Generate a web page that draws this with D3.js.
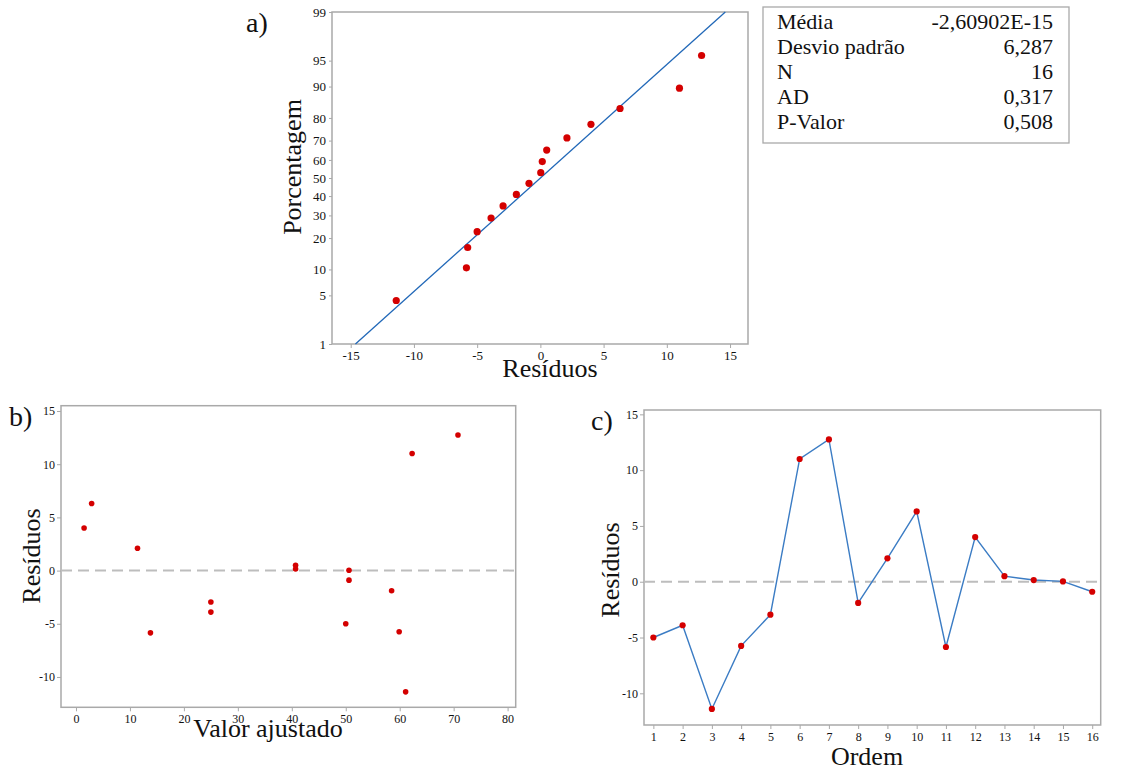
<!DOCTYPE html>
<html>
<head>
<meta charset="utf-8">
<script src="https://cdn.jsdelivr.net/npm/d3@7"></script>
<style>
body { margin: 0; background: #fff; }
svg text { font-family: "Liberation Serif", "DejaVu Serif", serif !important; fill: #111; }
</style>
</head>
<body>
<div id="chart"></div>
<script>
// dados
var ordem = [1, 2, 3, 4, 5, 6, 7, 8, 9, 10, 11, 12, 13, 14, 15, 16];
var residuos = [-5.0, -3.9, -11.4, -5.75, -2.95, 11.0, 12.75, -1.9, 2.1, 6.3, -5.85, 4.0, 0.5, 0.15, 0.03, -0.9];
var ajustado = [50.0, 25.0, 61.1, 59.9, 25.0, 62.3, 70.8, 58.5, 11.4, 2.9, 13.8, 1.5, 40.7, 40.7, 50.6, 50.6];
var porcentagem = [4.3, 10.4, 16.5, 22.6, 28.7, 34.8, 40.9, 47.0, 53.0, 59.1, 65.2, 71.3, 77.4, 83.5, 89.6, 95.7];
var pctTicks = [1, 5, 10, 20, 30, 40, 50, 60, 70, 80, 90, 95, 99];
var residTicksA = [-15, -10, -5, 0, 5, 10, 15];
var residTicks = [-10, -5, 0, 5, 10, 15];
var ajustTicks = [0, 10, 20, 30, 40, 50, 60, 70, 80];
var statNomes = ["Média", "Desvio padrão", "N", "AD", "P-Valor"];
var statValores = ["-2,60902E-15", "6,287", "16", "0,317", "0,508"];
var media = -2.60902e-15, desvio = 6.287;

var width = 1145, height = 771;
var red = "#d40000", blue = "#2168b8", frameCol = "#a9a9a9";
var serif = "Liberation Serif, DejaVu Serif, serif";

var svg = d3.select("#chart").append("svg")
    .attr("width", width)
    .attr("height", height);

// inversa da normal (Acklam)
function probit(p) {
  var a = [-39.6968302866538, 220.946098424521, -275.928510446969, 138.357751867269, -30.6647980661472, 2.50662827745924];
  var b = [-54.4760987982241, 161.585836858041, -155.698979859887, 66.8013118877197, -13.2806815528857];
  var c = [-0.00778489400243029, -0.322396458041136, -2.40075827716184, -2.54973253934373, 4.37466414146497, 2.93816398269878];
  var d = [0.00778469570904146, 0.32246712907004, 2.445134137143, 3.75440866190742];
  var q, r;
  if (p < 0.02425) {
    q = Math.sqrt(-2 * Math.log(p));
    return (((((c[0]*q+c[1])*q+c[2])*q+c[3])*q+c[4])*q+c[5]) / ((((d[0]*q+d[1])*q+d[2])*q+d[3])*q+1);
  }
  if (p > 1 - 0.02425) {
    q = Math.sqrt(-2 * Math.log(1 - p));
    return -(((((c[0]*q+c[1])*q+c[2])*q+c[3])*q+c[4])*q+c[5]) / ((((d[0]*q+d[1])*q+d[2])*q+d[3])*q+1);
  }
  q = p - 0.5; r = q * q;
  return (((((a[0]*r+a[1])*r+a[2])*r+a[3])*r+a[4])*r+a[5])*q / (((((b[0]*r+b[1])*r+b[2])*r+b[3])*r+b[4])*r+1);
}

var fmt = function (d) { return String(d); };  // hífen simples, como no original

// moldura + eixos
function painel(x, y, xTicks, yTicks, fs) {
  var g = svg.append("g");
  var r = x.range(), t = y.range();
  g.append("rect")
    .attr("x", r[0]).attr("y", t[1])
    .attr("width", r[1] - r[0]).attr("height", t[0] - t[1])
    .attr("fill", "none").attr("stroke", frameCol).attr("stroke-width", 1.5);
  var ax = g.append("g").attr("transform", "translate(0," + t[0] + ")")
    .call(d3.axisBottom(x).tickValues(xTicks).tickFormat(fmt).tickSize(4).tickPadding(3).tickSizeOuter(0));
  var ay = g.append("g").attr("transform", "translate(" + r[0] + ",0)")
    .call(yTicks);
  [ax, ay].forEach(function (a) {
    a.attr("font-family", serif);
    a.select(".domain").remove();
    a.selectAll(".tick line").attr("stroke", frameCol);
    a.selectAll(".tick text").attr("font-size", fs).attr("fill", "#222");
  });
  return g;
}

function titulo(txt, x, y, rot) {
  svg.append("text")
    .attr("transform", "translate(" + x + "," + y + ")" + (rot ? " rotate(-90)" : ""))
    .attr("text-anchor", "middle")
    .attr("font-family", serif)
    .attr("font-size", 26)
    .text(txt);
}

// ---------- a) gráfico de probabilidade normal ----------
var xA = d3.scaleLinear().domain([-16.48, 16.42]).range([332, 748]);
var yA = d3.scaleLinear().domain([probit(0.01), probit(0.99)]).range([344, 12]);
var yAp = function (p) { return yA(probit(p / 100)); };

painel(xA, yA, residTicksA, function (s) {
  var ax = d3.axisLeft(yA).tickValues(pctTicks.map(function (p) { return probit(p / 100); }))
    .tickFormat(function (v, i) { return pctTicks[i]; })
    .tickSize(3).tickPadding(3).tickSizeOuter(0);
  s.call(ax);
}, 13);

// linha ajustada
var linhaA = [1, 99].map(function (p) { return [media + desvio * probit(p / 100), p]; });
svg.append("path")
  .attr("d", d3.line().x(function (d) { return xA(d[0]); }).y(function (d) { return yAp(d[1]); })(linhaA))
  .attr("stroke", blue).attr("stroke-width", 1.3).attr("fill", "none");

var ordenados = residuos.slice().sort(d3.ascending);
svg.selectAll(".ptA").data(ordenados).enter().append("circle")
  .attr("cx", function (d) { return xA(d); })
  .attr("cy", function (d, i) { return yAp(porcentagem[i]); })
  .attr("r", 3.6).attr("fill", red);

titulo("Porcentagem", 301, 167, true);
titulo("Resíduos", 550, 377, false);
svg.append("text").attr("x", 246).attr("y", 32).attr("font-family", serif).attr("font-size", 28).text("a)");

// caixa de estatísticas
svg.append("rect").attr("x", 763).attr("y", 7).attr("width", 306).attr("height", 136)
  .attr("fill", "none").attr("stroke", frameCol).attr("stroke-width", 1.3);
statNomes.forEach(function (n, i) {
  svg.append("text").attr("x", 777).attr("y", 29 + i * 25).attr("font-family", serif).attr("font-size", 22).text(n);
  svg.append("text").attr("x", 1053).attr("y", 29 + i * 25).attr("font-family", serif).attr("font-size", 22)
    .attr("text-anchor", "end").text(statValores[i]);
});

// ---------- b) resíduos x valor ajustado ----------
var xB = d3.scaleLinear().domain([-2.78, 81.5]).range([61, 515.7]);
var yB = d3.scaleLinear().domain([-12.85, 15.5]).range([707.3, 405.7]);
painel(xB, yB, ajustTicks, function (s) {
  s.call(d3.axisLeft(yB).tickValues(residTicks).tickFormat(fmt).tickSize(4).tickPadding(2).tickSizeOuter(0));
}, 12);
svg.append("line").attr("x1", xB.range()[0]).attr("x2", xB.range()[1])
  .attr("y1", yB(0)).attr("y2", yB(0))
  .attr("stroke", "#bdbdbd").attr("stroke-width", 2).attr("stroke-dasharray", "11,6");
svg.selectAll(".ptB").data(residuos).enter().append("circle")
  .attr("cx", function (d, i) { return xB(ajustado[i]); })
  .attr("cy", function (d) { return yB(d); })
  .attr("r", 2.8).attr("fill", red);
titulo("Resíduos", 40, 556, true);
titulo("Valor ajustado", 268, 737, false);
svg.append("text").attr("x", 9).attr("y", 426).attr("font-family", serif).attr("font-size", 28).text("b)");

// ---------- c) resíduos x ordem ----------
var xC = d3.scaleLinear().domain([0.68, 16.29]).range([644, 1100.7]);
var yC = d3.scaleLinear().domain([-12.84, 15.39]).range([725, 410]);
painel(xC, yC, ordem, function (s) {
  s.call(d3.axisLeft(yC).tickValues(residTicks).tickFormat(fmt).tickSize(4).tickPadding(2).tickSizeOuter(0));
}, 12);
svg.append("line").attr("x1", xC.range()[0]).attr("x2", xC.range()[1])
  .attr("y1", yC(0)).attr("y2", yC(0))
  .attr("stroke", "#bdbdbd").attr("stroke-width", 2).attr("stroke-dasharray", "11,6");
svg.append("path")
  .attr("d", d3.line().x(function (d, i) { return xC(ordem[i]); }).y(function (d) { return yC(d); })(residuos))
  .attr("stroke", "#3b7cc4").attr("stroke-width", 1.4).attr("fill", "none");
svg.selectAll(".ptC").data(residuos).enter().append("circle")
  .attr("cx", function (d, i) { return xC(ordem[i]); })
  .attr("cy", function (d) { return yC(d); })
  .attr("r", 3.1).attr("fill", red);
titulo("Resíduos", 619, 570, true);
titulo("Ordem", 867, 765, false);
svg.append("text").attr("x", 591).attr("y", 430).attr("font-family", serif).attr("font-size", 28).text("c)");
</script>
</body>
</html>
